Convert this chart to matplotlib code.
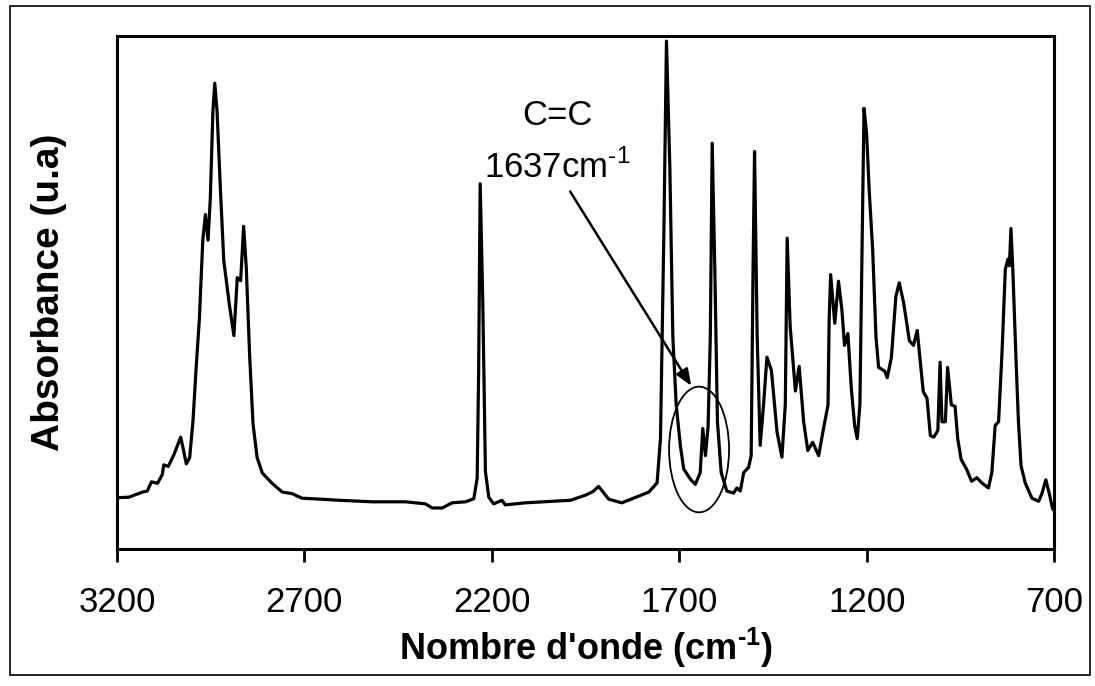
"""Spectre IR : absorbance vs nombre d'onde, bande C=C à 1637 cm-1 entourée."""
import matplotlib
matplotlib.use("Agg")
import matplotlib.pyplot as plt
from matplotlib.patches import Ellipse, Rectangle

plt.rcParams["font.family"] = ["Liberation Sans", "DejaVu Sans"]
plt.rcParams["mathtext.fontset"] = "custom"
plt.rcParams["mathtext.rm"] = "Liberation Sans"
plt.rcParams["mathtext.bf"] = "Liberation Sans:bold"

# nombre d'onde (cm-1) et absorbance (u.a)
wavenumber = [3200, 3168, 3132, 3119, 3108, 3092, 3079, 3075, 3063, 3048, 3039, 3030,
              3024, 3015, 3006, 2997, 2989, 2980, 2971, 2964, 2957, 2951, 2944, 2939,
              2933, 2924, 2915, 2900, 2888, 2879, 2870, 2862, 2855, 2846, 2837, 2826,
              2812, 2786, 2759, 2733, 2706, 2653, 2608, 2519, 2430, 2377, 2359, 2332,
              2306, 2270, 2248, 2239, 2235, 2231, 2224, 2217, 2208, 2195, 2173, 2164,
              2111, 2040, 1990, 1950, 1930, 1915, 1900, 1888, 1853, 1808, 1781, 1759,
              1750, 1741, 1734, 1725, 1717, 1708, 1697, 1688, 1670, 1657, 1644, 1637,
              1630, 1623, 1617, 1612, 1605, 1598, 1588, 1573, 1555, 1546, 1537, 1528,
              1515, 1508, 1503, 1499, 1492, 1484, 1475, 1466, 1454, 1439, 1426, 1417,
              1412, 1404, 1390, 1380, 1368, 1357, 1344, 1328, 1315, 1303, 1300, 1296,
              1285, 1275, 1266, 1259, 1250, 1241, 1232, 1225, 1218, 1213, 1207, 1200,
              1193, 1184, 1175, 1168, 1152, 1145, 1134, 1122, 1113, 1101, 1086, 1075,
              1065, 1056, 1049, 1039, 1030, 1021, 1010, 1004, 999, 990, 984, 974,
              964, 957, 948, 933, 920, 906, 893, 875, 866, 857, 848, 839,
              830, 823, 819, 815, 810, 802, 795, 788, 777, 759, 741, 732,
              722, 713, 704, 700]
absorbance = [0.100, 0.101, 0.111, 0.113, 0.131, 0.128, 0.145, 0.164, 0.161, 0.184, 0.201, 0.218,
              0.198, 0.166, 0.178, 0.251, 0.350, 0.450, 0.602, 0.652, 0.602, 0.682, 0.854, 0.908,
              0.854, 0.702, 0.562, 0.476, 0.416, 0.529, 0.523, 0.629, 0.549, 0.377, 0.244, 0.178,
              0.148, 0.128, 0.111, 0.108, 0.099, 0.097, 0.095, 0.092, 0.092, 0.088, 0.080, 0.080,
              0.090, 0.092, 0.098, 0.138, 0.350, 0.712, 0.482, 0.151, 0.101, 0.088, 0.095, 0.086,
              0.090, 0.093, 0.095, 0.105, 0.112, 0.122, 0.108, 0.097, 0.090, 0.103, 0.111, 0.129,
              0.215, 0.613, 0.990, 0.745, 0.414, 0.281, 0.202, 0.156, 0.136, 0.126, 0.149, 0.235,
              0.182, 0.238, 0.414, 0.791, 0.546, 0.248, 0.149, 0.113, 0.109, 0.119, 0.113, 0.149,
              0.159, 0.182, 0.546, 0.775, 0.414, 0.202, 0.281, 0.374, 0.348, 0.228, 0.179, 0.281,
              0.606, 0.434, 0.308, 0.356, 0.248, 0.192, 0.208, 0.182, 0.235, 0.281, 0.446, 0.535,
              0.440, 0.522, 0.466, 0.397, 0.420, 0.314, 0.241, 0.215, 0.281, 0.545, 0.859, 0.810,
              0.697, 0.585, 0.413, 0.354, 0.347, 0.334, 0.373, 0.492, 0.519, 0.479, 0.406, 0.397,
              0.426, 0.360, 0.307, 0.294, 0.221, 0.218, 0.231, 0.364, 0.248, 0.248, 0.354, 0.281,
              0.278, 0.215, 0.175, 0.155, 0.132, 0.139, 0.129, 0.119, 0.149, 0.241, 0.248, 0.380,
              0.545, 0.565, 0.552, 0.625, 0.545, 0.380, 0.248, 0.162, 0.129, 0.099, 0.093, 0.109,
              0.135, 0.109, 0.079, 0.075]
xticks = [3200, 2700, 2200, 1700, 1200, 700]

fig = plt.figure(figsize=(10.95, 6.86), dpi=100)
ax = fig.add_axes([0.1068, 0.1997, 0.8558, 0.7478])

ax.plot(wavenumber, absorbance, color="black", lw=2.3, solid_joinstyle="round")
ax.set_xlim(3200, 700)
ax.set_ylim(0, 1)
ax.set_xticks(xticks)
ax.set_yticks([])
ax.tick_params(axis="x", direction="out", length=9.5, width=2.0, pad=17, labelsize=25)
for s in ax.spines.values():
    s.set_linewidth(2.2)

# trait d'union court dans l'exposant, comme sur l'original
ax.set_xlabel("Nombre d'onde (cm$^{\\mathbf{\u2010}\\mathbf{1}}$)", fontsize=26,
              fontweight="bold", va="top")
ax.xaxis.set_label_coords(0.5, -0.15)
ax.set_ylabel("Absorbance (u.a)", fontsize=28, fontweight="bold")
ax.yaxis.set_label_coords(-0.053, 0.5)

# annotation C=C
ax.text(2026, 0.826, "C=C", fontsize=25, ha="center", va="baseline")
ax.text(2026, 0.724, "1637cm$^{\u20101}$", fontsize=25, ha="center", va="baseline")
ax.annotate("", xy=(1668, 0.318), xytext=(1991, 0.697),
            arrowprops=dict(arrowstyle="-|>,head_length=1.0,head_width=0.4",
                            color="black", lw=1.8, shrinkA=0, shrinkB=0))
ax.add_patch(Ellipse((1647, 0.194), 160, 0.245, fill=False, ec="black", lw=1.3))

# cadre extérieur
fig.patches.append(Rectangle((10 / 1095, 11 / 686), 1080 / 1095, 669 / 686,
                             transform=fig.transFigure, fill=False, ec="black", lw=1.2))

fig.savefig("out.png", dpi=100)
